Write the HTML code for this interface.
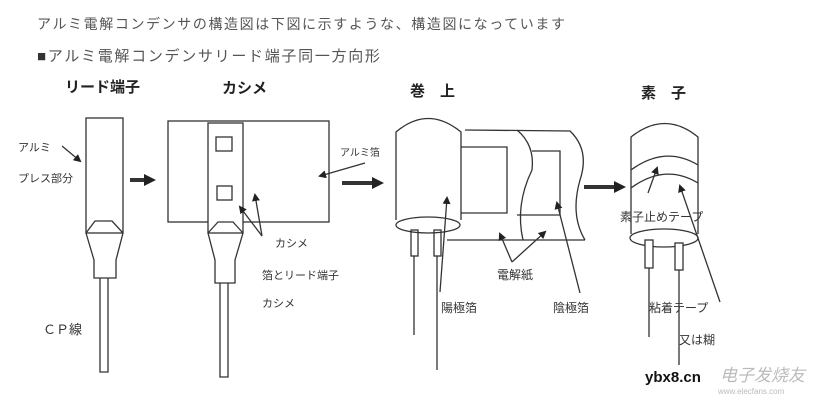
<!DOCTYPE html>
<html><head><meta charset="utf-8"><style>
html,body{margin:0;padding:0;background:#fff;}
svg{display:block;}
text{font-family:"Liberation Sans","Noto Sans CJK JP",sans-serif;}
</style></head><body>
<svg width="824" height="407" viewBox="0 0 824 407" xmlns="http://www.w3.org/2000/svg">
<defs>
<marker id="ah" markerWidth="8" markerHeight="8" refX="6" refY="4" orient="auto" markerUnits="userSpaceOnUse"><path d="M0,0 L8,4 L0,8 z" fill="#222"/></marker>
<marker id="ab" markerWidth="12" markerHeight="12" refX="8" refY="6" orient="auto" markerUnits="userSpaceOnUse"><path d="M0,0 L12,6 L0,12 z" fill="#222"/></marker>
</defs>
<g fill="#555">
<text x="37" y="29" font-size="14" letter-spacing="1.6">アルミ電解コンデンサの構造図は下図に示すような、構造図になっています</text>
<text x="37" y="61" font-size="15" letter-spacing="1.7"><tspan fill="#333">■</tspan>アルミ電解コンデンサリード端子同一方向形</text>
</g>
<g fill="#222" font-size="15" font-weight="bold">
<text x="65" y="92">リード端子</text>
<text x="222" y="93">カシメ</text>
<text x="410" y="96">巻　上</text>
<text x="641" y="98">素　子</text>
</g>
<g stroke="#333" stroke-width="1.3" fill="none">
<rect x="86" y="118" width="37" height="115"/>
<path d="M86,233 L95,221 L112,221 L123,233 M86,233 L94,260 L94,278 L116,278 L116,260 L123,233"/>
<path d="M100,278 L100,372 L108,372 L108,278"/>
<line x1="62" y1="146" x2="80" y2="161" marker-end="url(#ah)"/>
<line x1="130" y1="180" x2="152" y2="180" stroke-width="4" marker-end="url(#ab)"/>
<rect x="168" y="121" width="161" height="101"/>
<rect x="208" y="123" width="35" height="110" fill="#fff"/>
<rect x="216" y="137" width="16" height="14"/>
<rect x="217" y="186" width="15" height="14"/>
<path d="M208,233 L218,222 L233,222 L243,233 M208,233 L215,260 L215,283 L235,283 L235,260 L243,233"/>
<path d="M220,283 L220,377 L228,377 L228,283"/>
<line x1="262" y1="236" x2="240" y2="207" marker-end="url(#ah)"/>
<line x1="262" y1="236" x2="255" y2="195" marker-end="url(#ah)"/>
<line x1="365" y1="163" x2="320" y2="176" marker-end="url(#ah)"/>
<line x1="342" y1="183" x2="380" y2="183" stroke-width="4" marker-end="url(#ab)"/>
<path d="M396,220 L396,132 Q428,105 461,132 L461,220"/>
<ellipse cx="428" cy="225" rx="32" ry="8"/>
<rect x="411" y="230" width="7" height="26"/>
<rect x="434" y="230" width="7" height="26"/>
<line x1="414" y1="256" x2="414" y2="335"/>
<line x1="437" y1="256" x2="437" y2="370"/>
<path d="M465,130 L570,131 Q590,150 580,180 Q570,215 585,240"/>
<path d="M517,130 Q535,145 532,170 Q515,205 523,240"/>
<path d="M461,147 L507,147 L507,213 L461,213"/>
<path d="M532,151 L560,151 L560,215 L517,215"/>
<line x1="447" y1="240" x2="585" y2="240"/>
<line x1="440" y1="292" x2="447" y2="198" marker-end="url(#ah)"/>
<line x1="512" y1="262" x2="500" y2="234" marker-end="url(#ah)"/>
<line x1="512" y1="262" x2="545" y2="232" marker-end="url(#ah)"/>
<line x1="580" y1="293" x2="557" y2="203" marker-end="url(#ah)"/>
<line x1="584" y1="187" x2="622" y2="187" stroke-width="4" marker-end="url(#ab)"/>
<path d="M631,234 L631,137 Q665,110 698,137 L698,234"/>
<ellipse cx="664" cy="238" rx="34" ry="9"/>
<path d="M631,170 Q665,145 698,165 M631,188 Q665,163 698,183"/>
<rect x="645" y="240" width="8" height="28" fill="#fff"/>
<rect x="675" y="243" width="8" height="27" fill="#fff"/>
<line x1="649" y1="268" x2="649" y2="337"/>
<line x1="679" y1="270" x2="679" y2="365"/>
<line x1="648" y1="193" x2="657" y2="168" marker-end="url(#ah)"/>
<line x1="720" y1="302" x2="680" y2="186" marker-end="url(#ah)"/>
</g>
<g fill="#333" font-size="11">
<text x="18" y="151">アルミ</text>
<text x="18" y="182">プレス部分</text>
<text x="275" y="247">カシメ</text>
<text x="262" y="279">箔とリード端子</text>
<text x="262" y="307">カシメ</text>
<text x="43" y="334" font-size="13">ＣＰ線</text>
<text x="340" y="156" font-size="10">アルミ箔</text>
<text x="497" y="279" font-size="12">電解紙</text>
<text x="441" y="312" font-size="12">陽極箔</text>
<text x="553" y="312" font-size="12">陰極箔</text>
<text x="620" y="221" font-size="12">素子止めテープ</text>
<text x="649" y="312" font-size="12">粘着テープ</text>
<text x="679" y="344" font-size="12">又は糊</text>
</g>
<text x="645" y="382" font-size="15" font-weight="bold" fill="#111">ybx8.cn</text>
<text x="720" y="381" font-size="17" fill="#bbb" font-style="italic">电子发烧友</text>
<text x="718" y="394" font-size="8" fill="#bbb">www.elecfans.com</text>
</svg>
</body></html>
